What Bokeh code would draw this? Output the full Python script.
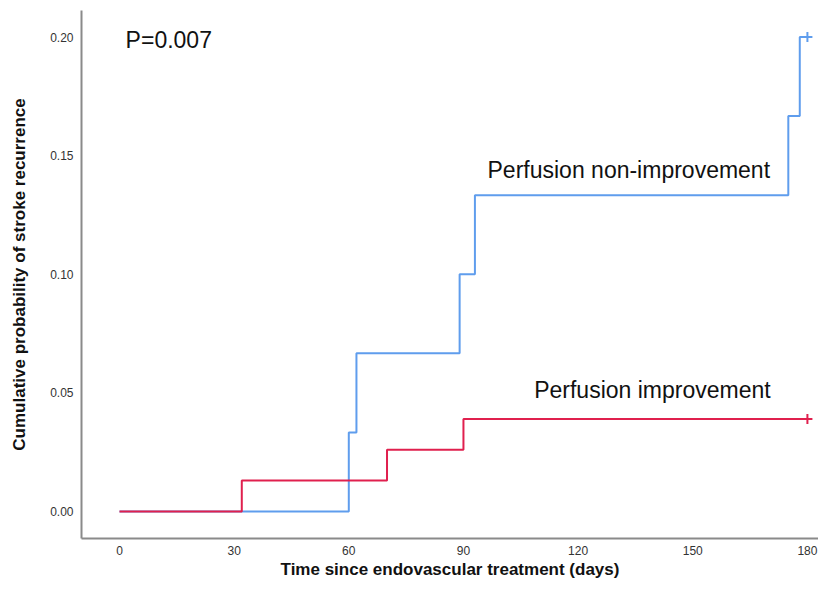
from bokeh.plotting import figure
from bokeh.models import Range1d, FixedTicker, PrintfTickFormatter
from bokeh.core.properties import value
from bokeh.embed import file_html
from bokeh.resources import INLINE

# Data
nonimp_time = [0, 60, 62, 89, 93, 175, 178, 180]
nonimp_prob = [0.0, 0.0333, 0.0667, 0.1000, 0.1333, 0.1667, 0.2000, 0.2000]
imp_time = [0, 32, 70, 90, 180]
imp_prob = [0.0, 0.0130, 0.0260, 0.0390, 0.0390]
x_ticks = [0, 30, 60, 90, 120, 150, 180]
y_ticks = [0.00, 0.05, 0.10, 0.15, 0.20]
p_value_text = "P=0.007"
label_nonimp = "Perfusion non-improvement"
label_imp = "Perfusion improvement"

FONT = "Liberation Sans"
BLUE = "#5f9ded"
RED = "#e0204e"

p = figure(width=818, height=583, output_backend="svg", toolbar_location=None,
           x_range=Range1d(-9.94, 182.9), y_range=Range1d(-0.0114, 0.2112),
           min_border_left=81, min_border_right=0, min_border_top=10, min_border_bottom=45)
p.outline_line_color = None
p.grid.visible = False
p.background_fill_color = "white"
p.border_fill_color = "white"

for ax in (p.xaxis[0], p.yaxis[0]):
    ax.axis_line_color = "#8a8a8a"
    ax.axis_line_width = 2
    ax.major_tick_line_color = None
    ax.minor_tick_line_color = None
    ax.major_tick_out = 0
    ax.major_tick_in = 0
    ax.major_label_text_font = FONT
    ax.major_label_text_font_size = "12px"
    ax.major_label_text_color = "#333333"
    ax.axis_label_text_font = FONT
    ax.axis_label_text_font_size = "17px"
    ax.axis_label_text_font_style = "bold"
    ax.axis_label_text_color = "#111111"
    ax.major_label_standoff = 8

p.xaxis.major_label_standoff = 7
p.xaxis.ticker = FixedTicker(ticks=x_ticks)
p.yaxis.ticker = FixedTicker(ticks=y_ticks)
p.yaxis.formatter = PrintfTickFormatter(format="%.2f")
p.xaxis.axis_label = "Time since endovascular treatment (days)"
p.yaxis.axis_label = "Cumulative probability of stroke recurrence"
p.xaxis.axis_label_standoff = 2
p.yaxis.axis_label_standoff = 18

p.step(nonimp_time, nonimp_prob, mode="after", line_color=BLUE, line_width=2)
p.step(imp_time, imp_prob, mode="after", line_color=RED, line_width=2)

p.scatter([nonimp_time[-1]], [nonimp_prob[-1]], marker="cross", size=10,
          line_color=BLUE, line_width=2)
p.scatter([imp_time[-1]], [imp_prob[-1]], marker="cross", size=10,
          line_color=RED, line_width=2)

p.text(x=[1.6], y=[0.1989], text=[p_value_text], text_font=value(FONT),
       text_font_size="23px", text_baseline="middle", text_align="left",
       text_color="#111111")
p.text(x=[96.3], y=[0.1439], text=[label_nonimp], text_font=value(FONT),
       text_font_size="23px", text_baseline="middle", text_align="left",
       text_color="#111111")
p.text(x=[108.5], y=[0.0511], text=[label_imp], text_font=value(FONT),
       text_font_size="23px", text_baseline="middle", text_align="left",
       text_color="#111111")

open("out.html", "w").write(file_html(p, INLINE))
